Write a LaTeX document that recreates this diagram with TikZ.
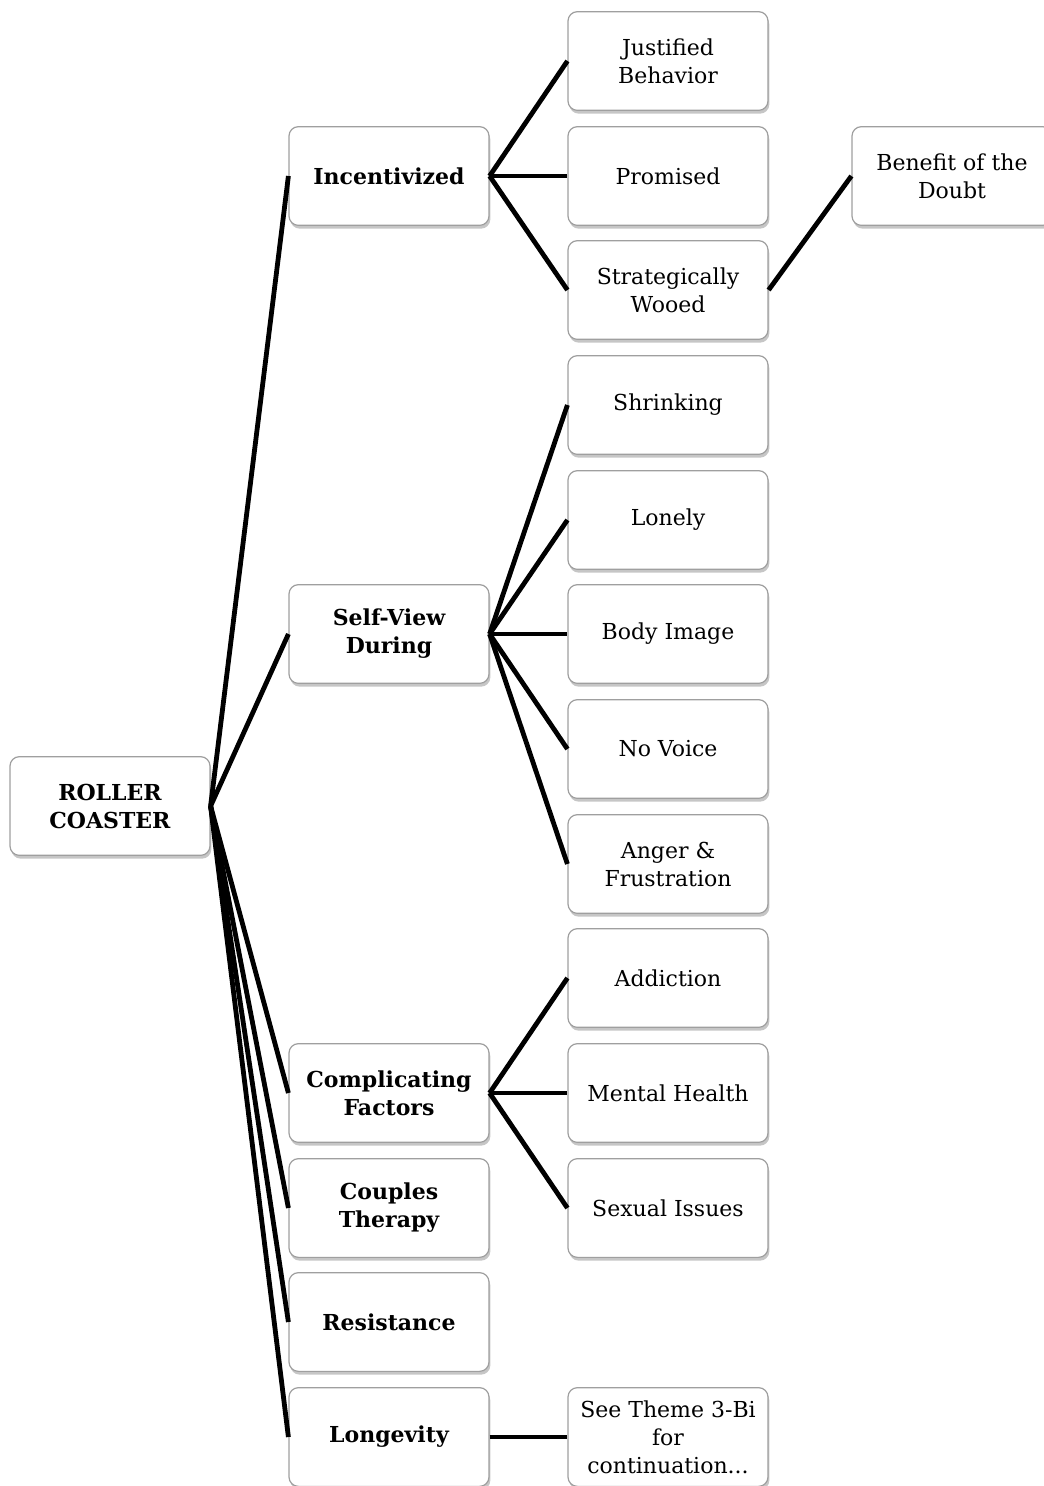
\documentclass[tikz,border=0pt]{standalone}
\usepackage{fontspec}
\setmainfont{DejaVu Serif}
\usetikzlibrary{shadows}

\begin{document}
\begin{tikzpicture}[x=0.75pt,y=-0.75pt,
    box/.style={draw=gray!75, line width=0.9pt, rounded corners=7pt, fill=white,
      minimum width=150pt, minimum height=74pt, align=center,
      font=\fontsize{16.5}{21}\selectfont,
      drop shadow={shadow xshift=1pt, shadow yshift=-2.5pt, opacity=0.45}},
    head/.style={box, font=\fontsize{16.5}{21}\selectfont\bfseries},
    link/.style={line width=3.6pt}]
    \useasboundingbox (0,0) rectangle (1044,1486);
    % root and first level
    \node[head] (root) at (110,806) {ROLLER\\COASTER};
    \node[head] (inc) at (389,176) {Incentivized};
    \node[head] (self) at (389,634) {Self-View\\During};
    \node[head] (comp) at (389,1093) {Complicating\\Factors};
    \node[head] (coup) at (389,1208) {Couples\\Therapy};
    \node[head] (res) at (389,1322) {Resistance};
    \node[head] (lon) at (389,1437) {Longevity};
    % second level
    \node[box] (just) at (668,61) {Justified\\Behavior};
    \node[box] (prom) at (668,176) {Promised};
    \node[box] (wooed) at (668,290) {Strategically\\Wooed};
    \node[box] (shrink) at (668,405) {Shrinking};
    \node[box] (lonely) at (668,520) {Lonely};
    \node[box] (body) at (668,634) {Body Image};
    \node[box] (voice) at (668,749) {No Voice};
    \node[box] (anger) at (668,864) {Anger \&\\Frustration};
    \node[box] (addict) at (668,978) {Addiction};
    \node[box] (mental) at (668,1093) {Mental Health};
    \node[box] (sexual) at (668,1208) {Sexual Issues};
    \node[box] (see) at (668,1437) {See Theme 3-Bi\\for\\continuation...};
    % third level
    \node[box] (doubt) at (952,176) {Benefit of the\\Doubt};
    % connectors
    \foreach \n in {inc,self,comp,coup,res,lon}{
    \draw[link] (root.east) -- (\n.west);
    }
    \foreach \n in {just,prom,wooed}{
    \draw[link] (inc.east) -- (\n.west);
    }
    \foreach \n in {shrink,lonely,body,voice,anger}{
    \draw[link] (self.east) -- (\n.west);
    }
    \foreach \n in {addict,mental,sexual}{
    \draw[link] (comp.east) -- (\n.west);
    }
    \draw[link] (wooed.east) -- (doubt.west);
    \draw[link] (lon.east) -- (see.west);
\end{tikzpicture}
\end{document}
